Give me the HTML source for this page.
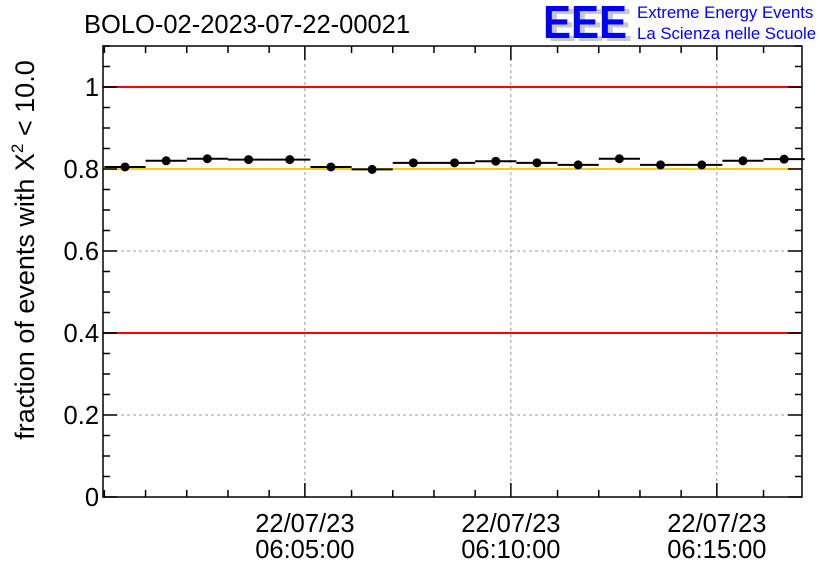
<!DOCTYPE html>
<html><head><meta charset="utf-8"><style>
body{margin:0;background:#fff;}
svg{display:block;font-family:"Liberation Sans",sans-serif;}
</style></head><body>
<svg id="chart" width="836" height="572">
<text x="84" y="33" font-size="25.5">BOLO-02-2023-07-22-00021</text>
<g>
<text x="548" y="41" font-size="46" font-weight="bold" fill="#c8c8c8" textLength="84" lengthAdjust="spacingAndGlyphs">EEE</text>
<text x="543" y="38" font-size="46" font-weight="bold" fill="#0000ff" textLength="84" lengthAdjust="spacingAndGlyphs">EEE</text>
<text x="637" y="18" font-size="16.8" fill="#0000ff">Extreme Energy Events</text>
<text x="637" y="39" font-size="16.8" fill="#0000ff">La Scienza nelle Scuole</text>
</g>
<g id="grid"></g><g id="refs"></g><g id="series"></g><g id="axes"></g>
<text transform="translate(34,250) rotate(-90)" text-anchor="middle" font-size="27">fraction of events with Χ<tspan dy="-11" font-size="17">2</tspan><tspan dy="11"> &lt; 10.0</tspan></text>
</svg>
<script>
const binStartSec = [8,68,128,188,248,308,368,428,488,548,608,668,728,788,848,908,968];
const values = [0.805,0.820,0.825,0.823,0.823,0.805,0.799,0.815,0.815,0.819,0.815,0.810,0.825,0.810,0.810,0.820,0.824];
const yTicks = [0,0.2,0.4,0.6,0.8,1];
const yTickLabels = ["0","0.2","0.4","0.6","0.8","1"];
const xMajorSec = [300,600,900];
const xDateLabels = ["22/07/23","22/07/23","22/07/23"];
const xTimeLabels = ["06:05:00","06:10:00","06:15:00"];
const refLines = [1.0,0.8,0.4];
const refColors = ["#ff0000","#ffcc00","#ff0000"];
const binWidthSec = 60, xMinSec = 6, xMaxSec = 1024, yMin = 0, yMax = 1.1;
const L=103,R=802,T=46,B=497;
const X=s=>L+(s-xMinSec)/(xMaxSec-xMinSec)*(R-L);
const Y=v=>B-(v-yMin)/(yMax-yMin)*(B-T);
const NS="http://www.w3.org/2000/svg";
function mk(tag,parent,attrs){const e=document.createElementNS(NS,tag);for(const k in attrs)e.setAttribute(k,attrs[k]);parent.appendChild(e);return e;}
const grid=document.getElementById('grid'),refs=document.getElementById('refs'),ser=document.getElementById('series'),axes=document.getElementById('axes');
yTicks.forEach((v,i)=>{if(v>0&&v<1.05){const l=mk('line',grid,{x1:L,x2:R,y1:Y(v),y2:Y(v),stroke:'#999','stroke-dasharray':'3,3','stroke-width':1});

}
const t=mk('text',axes,{x:L-4,y:Y(v)+9,'text-anchor':'end','font-size':25.5});t.textContent=yTickLabels[i];

});
xMajorSec.forEach((s,i)=>{const l=mk('line',grid,{x1:X(s),x2:X(s),y1:T,y2:B,stroke:'#999','stroke-dasharray':'3,3','stroke-width':1});


const t1=mk('text',axes,{x:X(s),y:532,'text-anchor':'middle','font-size':25.5});t1.textContent=xDateLabels[i];


const t2=mk('text',axes,{x:X(s),y:558,'text-anchor':'middle','font-size':25.5});t2.textContent=xTimeLabels[i];

});
refLines.forEach((v,i)=>{const l=mk('line',refs,{x1:L,x2:R,y1:Y(v),y2:Y(v),stroke:refColors[i],'stroke-width':2});

});
binStartSec.forEach((s,i)=>{const y=Y(values[i]);
const l=mk('line',ser,{x1:X(s),x2:X(s+binWidthSec),y1:y,y2:y,stroke:'#000','stroke-width':2});


const c=mk('circle',ser,{cx:X(s+binWidthSec/2),cy:y,r:4.5,fill:'#000'});

});
const frame=mk('rect',axes,{x:L,y:T,width:R-L,height:B-T,fill:'none',stroke:'#000','stroke-width':1.5});


for(let s=8;s<=xMaxSec;s+=60){const major=xMajorSec.some(m=>Math.abs(m-s)<30);const len=major?14:7;const xs=major?X(xMajorSec.find(m=>Math.abs(m-s)<30)):X(s);
mk('line',axes,{x1:xs,x2:xs,y1:B,y2:B-len,stroke:'#000','stroke-width':1.5});mk('line',axes,{x1:xs,x2:xs,y1:T,y2:T+len,stroke:'#000','stroke-width':1.5});}
for(let v=0;v<=1.1001;v+=0.05){const major=Math.abs(v*5-Math.round(v*5))<1e-6;const len=major?14:7;const y=Y(v);
mk('line',axes,{x1:L,x2:L+len,y1:y,y2:y,stroke:'#000','stroke-width':1.5});mk('line',axes,{x1:R,x2:R-len,y1:y,y2:y,stroke:'#000','stroke-width':1.5});}
</script>
</body></html>
